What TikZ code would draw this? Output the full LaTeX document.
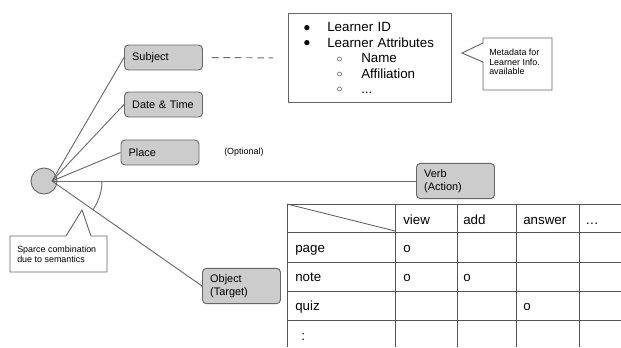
\documentclass[tikz,border=0pt]{standalone}
\usepackage{fontspec}
\setmainfont{Liberation Sans}
\usetikzlibrary{positioning, calc}

\definecolor{boxfill}{HTML}{CCCCCC}
\definecolor{boxline}{HTML}{666666}
\definecolor{wirecol}{HTML}{6A6A6A}
\definecolor{gridcol}{HTML}{555555}

\newcommand{\blt}{\makebox[18pt][l]{\raisebox{0.2pt}{\fontsize{9}{9}\selectfont ●}}}
\newcommand{\sublt}{\hspace*{25pt}\makebox[18.5pt][l]{\raisebox{0.4pt}{\fontsize{7.5}{7.5}\selectfont ○}}}

\begin{document}
\begin{tikzpicture}[x=0.75pt, y=-0.75pt,
	elem/.style={draw=boxline, fill=boxfill, rounded corners=3pt, line width=0.7pt,
		text width=47pt, inner xsep=5.75pt, inner ysep=1pt, minimum height=18.75pt,
		align=left, font=\fontsize{8.2}{9.6}\selectfont},
	tall/.style={minimum height=26.5pt},
	wire/.style={color=wirecol, line width=0.7pt},
	note/.style={draw=boxline, fill=white, line width=0.7pt},
	small/.style={font=\fontsize{6.7}{7.3}\selectfont, align=left, inner sep=0pt},
	cell/.style={anchor=base west, inner sep=0pt, font=\fontsize{10}{12}\selectfont},
	gridline/.style={draw=gridcol, line width=0.6pt}
]
\useasboundingbox (0,0) rectangle (621,347);

% Hub and context elements
	\node (hub)		[circle, draw=boxline, fill=boxfill, line width=0.7pt, minimum size=19.5pt, inner sep=0pt] at (44,181) {};
	\coordinate (root) at (52,181);

	\node (subject)		[elem]			at (163.5,57.5)		{Subject};
	\node (datetime)	[elem]			at (163.5,104.5)	{Date \& Time};
	\node (place)		[elem]			at (160,152.5)		{Place};
	\node (verb)		[elem, tall]	at (455.5,181)		{Verb\\(Action)};
	\node (object)		[elem, tall]	at (241.5,286)		{Object\\(Target)};

	\node (optional)	[small, anchor=west] at (224,152) {(Optional)};

% Spokes
	\path[wire]
		(root)		edge	(subject.west)
		(root)		edge	(datetime.west)
		(root)		edge	(place.west)
		(root)		edge	(verb.west)
		(root)		edge	(object.west)
	;
	\draw[wire] (root) ++(50,0) arc[start angle=0, end angle=35, radius=50];

% Learner info
	\node (attrs) [draw=boxline, line width=0.7pt, anchor=north west, text width=100pt,
		inner xsep=11.1pt, minimum height=66.75pt, align=left,
		font=\fontsize{10}{11.6}\selectfont] at (288,13)
		{\blt Learner ID\\
		 \blt Learner Attributes\\
		 \sublt Name\\
		 \sublt Affiliation\\
		 \sublt ...};
	\draw[wire, dash pattern=on 5pt off 3.5pt, shorten <=6.75pt, shorten >=11.25pt] (subject.east) -- (attrs.west);

% Callouts
	\draw[note] (483,38) -- (552,38) -- (552,90) -- (483,90) -- (483,62) -- (462,53) -- (483,43) -- cycle;
	\node (meta)	[small, anchor=west] at (489,62) {Metadata for\\Learner Info.\\available};

	\draw[note] (10,236) -- (66,236) -- (82,210) -- (91,236) -- (107,236) -- (107,272) -- (10,272) -- cycle;
	\node (sparse)	[small, anchor=west] at (17,254) {Sparce combination\\due to semantics};

% Object x verb table
	\foreach \y in {204,232,262,291,320}
		\draw[gridline] (287,\y) -- (621,\y);
	\foreach \x in {287,395,457,516,579}
		\draw[gridline] (\x,204) -- (\x,347);
	\draw[gridline] (287,204) -- (395,231);

	\foreach \name/\x in {view/403, add/463, answer/523}
		\node (col-\name) [cell] at (\x,224) {\name};
	\node (col-more) [cell] at (585,224) {\textellipsis};
	\foreach \name/\y in {page/252, note/281, quiz/310}
		\node (row-\name) [cell] at (295,\y) {\name};
	\node (row-more) [cell] at (301,340) {:};

	\foreach \r/\c/\x/\y in {page/view/403/252, note/view/403/281, note/add/463/281, quiz/answer/523/310}
		\node (mark-\r-\c) [cell] at (\x,\y) {o};

\end{tikzpicture}
\end{document}
